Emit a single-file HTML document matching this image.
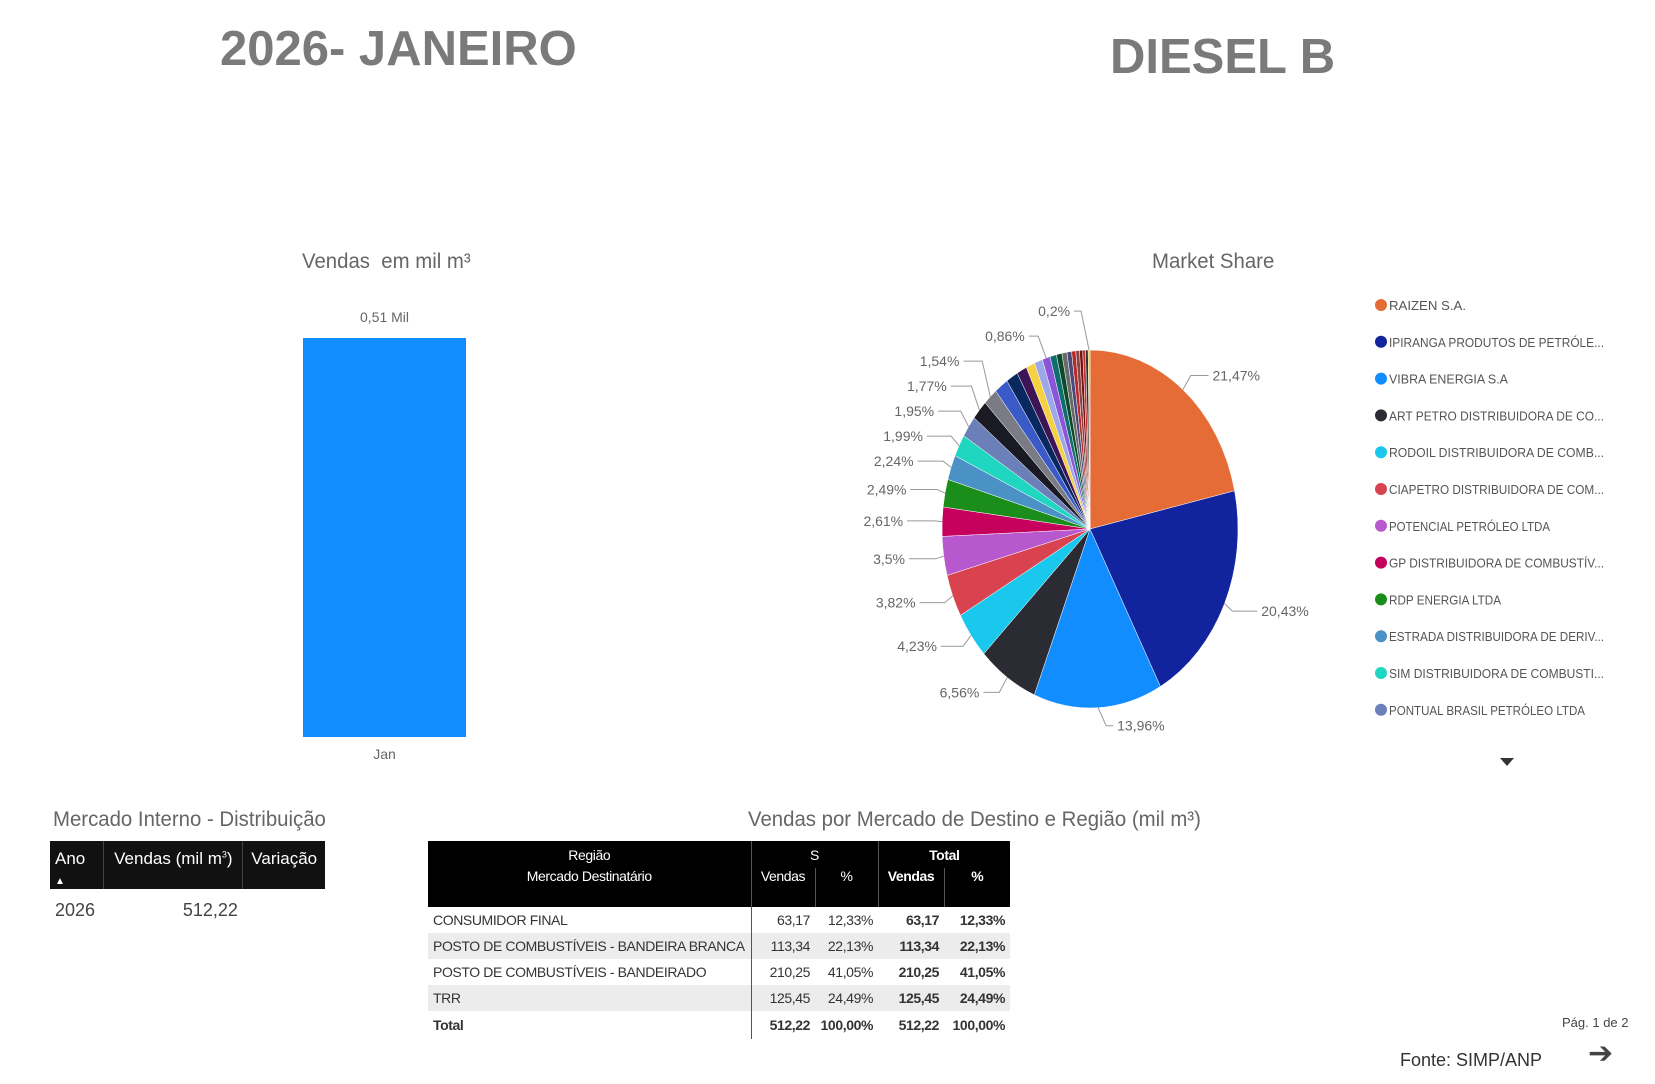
<!DOCTYPE html>
<html><head><meta charset="utf-8">
<style>
body{margin:0;width:1655px;height:1084px;background:#fff;font-family:"Liberation Sans",sans-serif;position:relative;overflow:hidden;color:#555}
.abs{position:absolute}
.big{font-weight:bold;color:#7a7a7a;font-size:49px;white-space:nowrap}
.ttl{font-size:21px;color:#666;white-space:nowrap;transform:scaleX(0.97);transform-origin:left}
table{border-collapse:collapse;font-size:15px}
td,th{padding:0 5px;white-space:nowrap}
#dt{table-layout:fixed;letter-spacing:-0.4px}
</style></head><body>
<div class="abs big" style="left:220px;top:21px">2026- JANEIRO</div>
<div class="abs big" style="left:1110px;top:29px">DIESEL B</div>
<div class="abs ttl" style="left:302px;top:250px">Vendas&nbsp; em mil m³</div>
<div class="abs ttl" style="left:1152px;top:250px">Market Share</div>

<svg class="abs" style="left:0;top:0" width="1655" height="800">
<g id="bar"></g><g id="pie"></g><g id="legend"></g>
<polygon points="1500,758 1514,758 1507,766" fill="#333"/>
</svg>

<div class="abs ttl" style="left:53px;top:808px">Mercado Interno - Distribuição</div>
<table class="abs" style="left:50px;top:841px;width:275px">
<tr style="background:#111;color:#fff;height:48px;font-size:17px">
<th style="text-align:left;vertical-align:top;padding-top:8px;border-right:1px solid #444;font-weight:normal">Ano<br><span style="font-size:10px">▲</span></th>
<th style="vertical-align:top;padding-top:8px;border-right:1px solid #444;font-weight:normal">Vendas (mil m<sup style="font-size:9px">3</sup>)</th>
<th style="vertical-align:top;padding-top:8px;font-weight:normal">Variação</th></tr>
<tr style="height:42px;font-size:18px;color:#444"><td>2026</td><td style="text-align:right">512,22</td><td></td></tr>
</table>

<div class="abs ttl" style="left:748px;top:808px">Vendas por Mercado de Destino e Região (mil m³)</div>
<table id="dt" class="abs" style="left:428px;top:841px;width:582px;font-size:14px;color:#333">
<colgroup><col style="width:323px"><col style="width:64px"><col style="width:63px"><col style="width:66px"><col style="width:66px"></colgroup>
<tr style="background:#000;color:#fff;height:27px"><td style="text-align:center">Região</td><td colspan="2" style="text-align:center;border-left:1px solid #555">S</td><td colspan="2" style="text-align:center;font-weight:bold;border-left:1px solid #555">Total</td></tr>
<tr style="background:#000;color:#fff;height:39px;vertical-align:top"><td style="text-align:center">Mercado Destinatário</td><td style="text-align:center;border-left:1px solid #555">Vendas</td><td style="text-align:center;border-left:1px solid #555">%</td><td style="text-align:center;font-weight:bold;border-left:1px solid #555">Vendas</td><td style="text-align:center;font-weight:bold;border-left:1px solid #555">%</td></tr>
<tr style="height:26px"><td style="border-right:1px solid #555">CONSUMIDOR FINAL</td><td align="right">63,17</td><td align="right">12,33%</td><td align="right"><b>63,17</b></td><td align="right"><b>12,33%</b></td></tr>
<tr style="height:26px;background:#ececec"><td style="border-right:1px solid #555;overflow:hidden">POSTO DE COMBUSTÍVEIS - BANDEIRA BRANCA</td><td align="right">113,34</td><td align="right">22,13%</td><td align="right"><b>113,34</b></td><td align="right"><b>22,13%</b></td></tr>
<tr style="height:26px"><td style="border-right:1px solid #555">POSTO DE COMBUSTÍVEIS - BANDEIRADO</td><td align="right">210,25</td><td align="right">41,05%</td><td align="right"><b>210,25</b></td><td align="right"><b>41,05%</b></td></tr>
<tr style="height:26px;background:#ececec"><td style="border-right:1px solid #555">TRR</td><td align="right">125,45</td><td align="right">24,49%</td><td align="right"><b>125,45</b></td><td align="right"><b>24,49%</b></td></tr>
<tr style="height:28px;font-weight:bold"><td style="border-right:1px solid #555">Total</td><td align="right">512,22</td><td align="right">100,00%</td><td align="right">512,22</td><td align="right">100,00%</td></tr>
</table>

<div class="abs" style="left:1562px;top:1015px;font-size:13px;color:#444">Pág. 1 de 2</div>
<div class="abs" style="left:1400px;top:1050px;font-size:18px;color:#333">Fonte: SIMP/ANP</div>
<div class="abs" style="left:1588px;top:1036px;font-size:30px;color:#444">➔</div>

<script>
const barCategories=["Jan"];
const barValues=[0.51];
const barLabels=["0,51 Mil"];
const pieValues=[21.47,20.43,13.96,6.56,4.23,3.82,3.5,2.61,2.49,2.24,1.99,1.95,1.77,1.54,1.5,1.3,1.1,0.95,0.9,0.86,0.7,0.6,0.55,0.5,0.45,0.4,0.35,0.3,0.28,0.2];
const pieColors=["#e66c37","#12239e","#118dff","#2b2b33","#1ac8ee","#d9434f","#b858cf","#c5005d","#1b8d1b","#4a91c6","#1fd6c0","#6b7fb8","#1a1a24","#7b7b85","#3a5ac8","#0a2860","#3d1455","#f5d142","#9ca8e8","#8a55d8","#0f6f6f","#0d4a2a","#6a6a6a","#4b4b7b","#b52a2a","#8b4242","#7a1010","#c03030","#2f2f2f","#c8c830"];
const pieLabels=["21,47%","20,43%","13,96%","6,56%","4,23%","3,82%","3,5%","2,61%","2,49%","2,24%","1,99%","1,95%","1,77%","1,54%","","","","","","0,86%","","","","","","","","","","0,2%"];
const legendNames=["RAIZEN S.A.","IPIRANGA PRODUTOS DE PETRÓLE...","VIBRA ENERGIA S.A","ART PETRO DISTRIBUIDORA DE CO...","RODOIL DISTRIBUIDORA DE COMB...","CIAPETRO DISTRIBUIDORA DE COM...","POTENCIAL PETRÓLEO LTDA","GP DISTRIBUIDORA DE COMBUSTÍV...","RDP ENERGIA LTDA","ESTRADA DISTRIBUIDORA DE DERIV...","SIM DISTRIBUIDORA DE COMBUSTI...","PONTUAL BRASIL PETRÓLEO LTDA"];

const NS="http://www.w3.org/2000/svg";
function mk(tag,attrs,parent){const e=document.createElementNS(NS,tag);for(const k in attrs)e.setAttribute(k,attrs[k]);parent.appendChild(e);return e;}
const bar=document.getElementById('bar');
const plotTop=338,plotBottom=737,barMax=0.51;
const yScale=v=>plotBottom-(v/barMax)*(plotBottom-plotTop);
const bandX=i=>303+i*163, bandW=163;
barValues.forEach((v,i)=>{
  const r=mk('rect',{x:bandX(i),y:yScale(v),width:bandW,height:plotBottom-yScale(v),fill:"#118dff"},bar);
  
  
  const t=mk('text',{x:bandX(i)+bandW/2,y:yScale(v)-16,'text-anchor':'middle','font-size':14,fill:'#666'},bar);t.textContent=barLabels[i];
  
  
  const c=mk('text',{x:bandX(i)+bandW/2,y:plotBottom+22,'text-anchor':'middle','font-size':14,fill:'#666'},bar);c.textContent=barCategories[i];
  
  
});
const pie=document.getElementById('pie');
const cx=1090,cy=529,rx=148,ry=179;
const total=pieValues.reduce((a,b)=>a+b,0);
let acc=0;const labs=[];
pieValues.forEach((v,i)=>{
  const a0=acc/total*2*Math.PI;acc+=v;const a1=acc/total*2*Math.PI;
  const p=a=>[cx+rx*Math.sin(a),cy-ry*Math.cos(a)];
  const [x0,y0]=p(a0),[x1,y1]=p(a1);
  const path=mk('path',{d:`M${cx},${cy}L${x0},${y0}A${rx},${ry} 0 ${a1-a0>Math.PI?1:0} 1 ${x1},${y1}Z`,fill:pieColors[i],stroke:'#fff','stroke-width':0.5},pie);
  
  
  if(pieLabels[i]){const am=(a0+a1)/2;labs.push({i,am,ex:cx+rx*Math.sin(am),ey:cy-ry*Math.cos(am),ty:cy-(ry+18)*Math.cos(am),right:Math.sin(am)>0.05});}
});
const left=labs.filter(l=>!l.right).sort((a,b)=>b.ty-a.ty);
for(let k=1;k<left.length;k++){if(left[k].ty>left[k-1].ty-25)left[k].ty=left[k-1].ty-25;}
labs.forEach(l=>{
  const dir=l.right?1:-1;
  const ox=cx+dir*(rx+25)*Math.abs(Math.sin(l.am))+dir*10;
  const lx=l.right?Math.max(ox,l.ex+15):Math.min(ox,l.ex-15);
  const pl=mk('polyline',{points:`${l.ex},${l.ey} ${l.ex+dir*8},${l.ty} ${lx},${l.ty}`,fill:'none',stroke:'#999','stroke-width':1},pie);
  
  
  const t=mk('text',{x:lx+dir*4,y:l.ty+5,'text-anchor':l.right?'start':'end','font-size':14,fill:'#666'},pie);
  t.textContent=pieLabels[l.i];
  
  
});
const leg=document.getElementById('legend');
legendNames.forEach((n,i)=>{
  const y=305+i*36.8;
  const c=mk('circle',{cx:1381,cy:y,r:6,fill:pieColors[i]},leg);
  
  
  const t=mk('text',{x:1389,y:y+5,'font-size':13,fill:'#555',textLength:Math.min(n.length*7,215),lengthAdjust:'spacingAndGlyphs'},leg);
  t.textContent=n;
  
  
});
</script>
</body></html>
